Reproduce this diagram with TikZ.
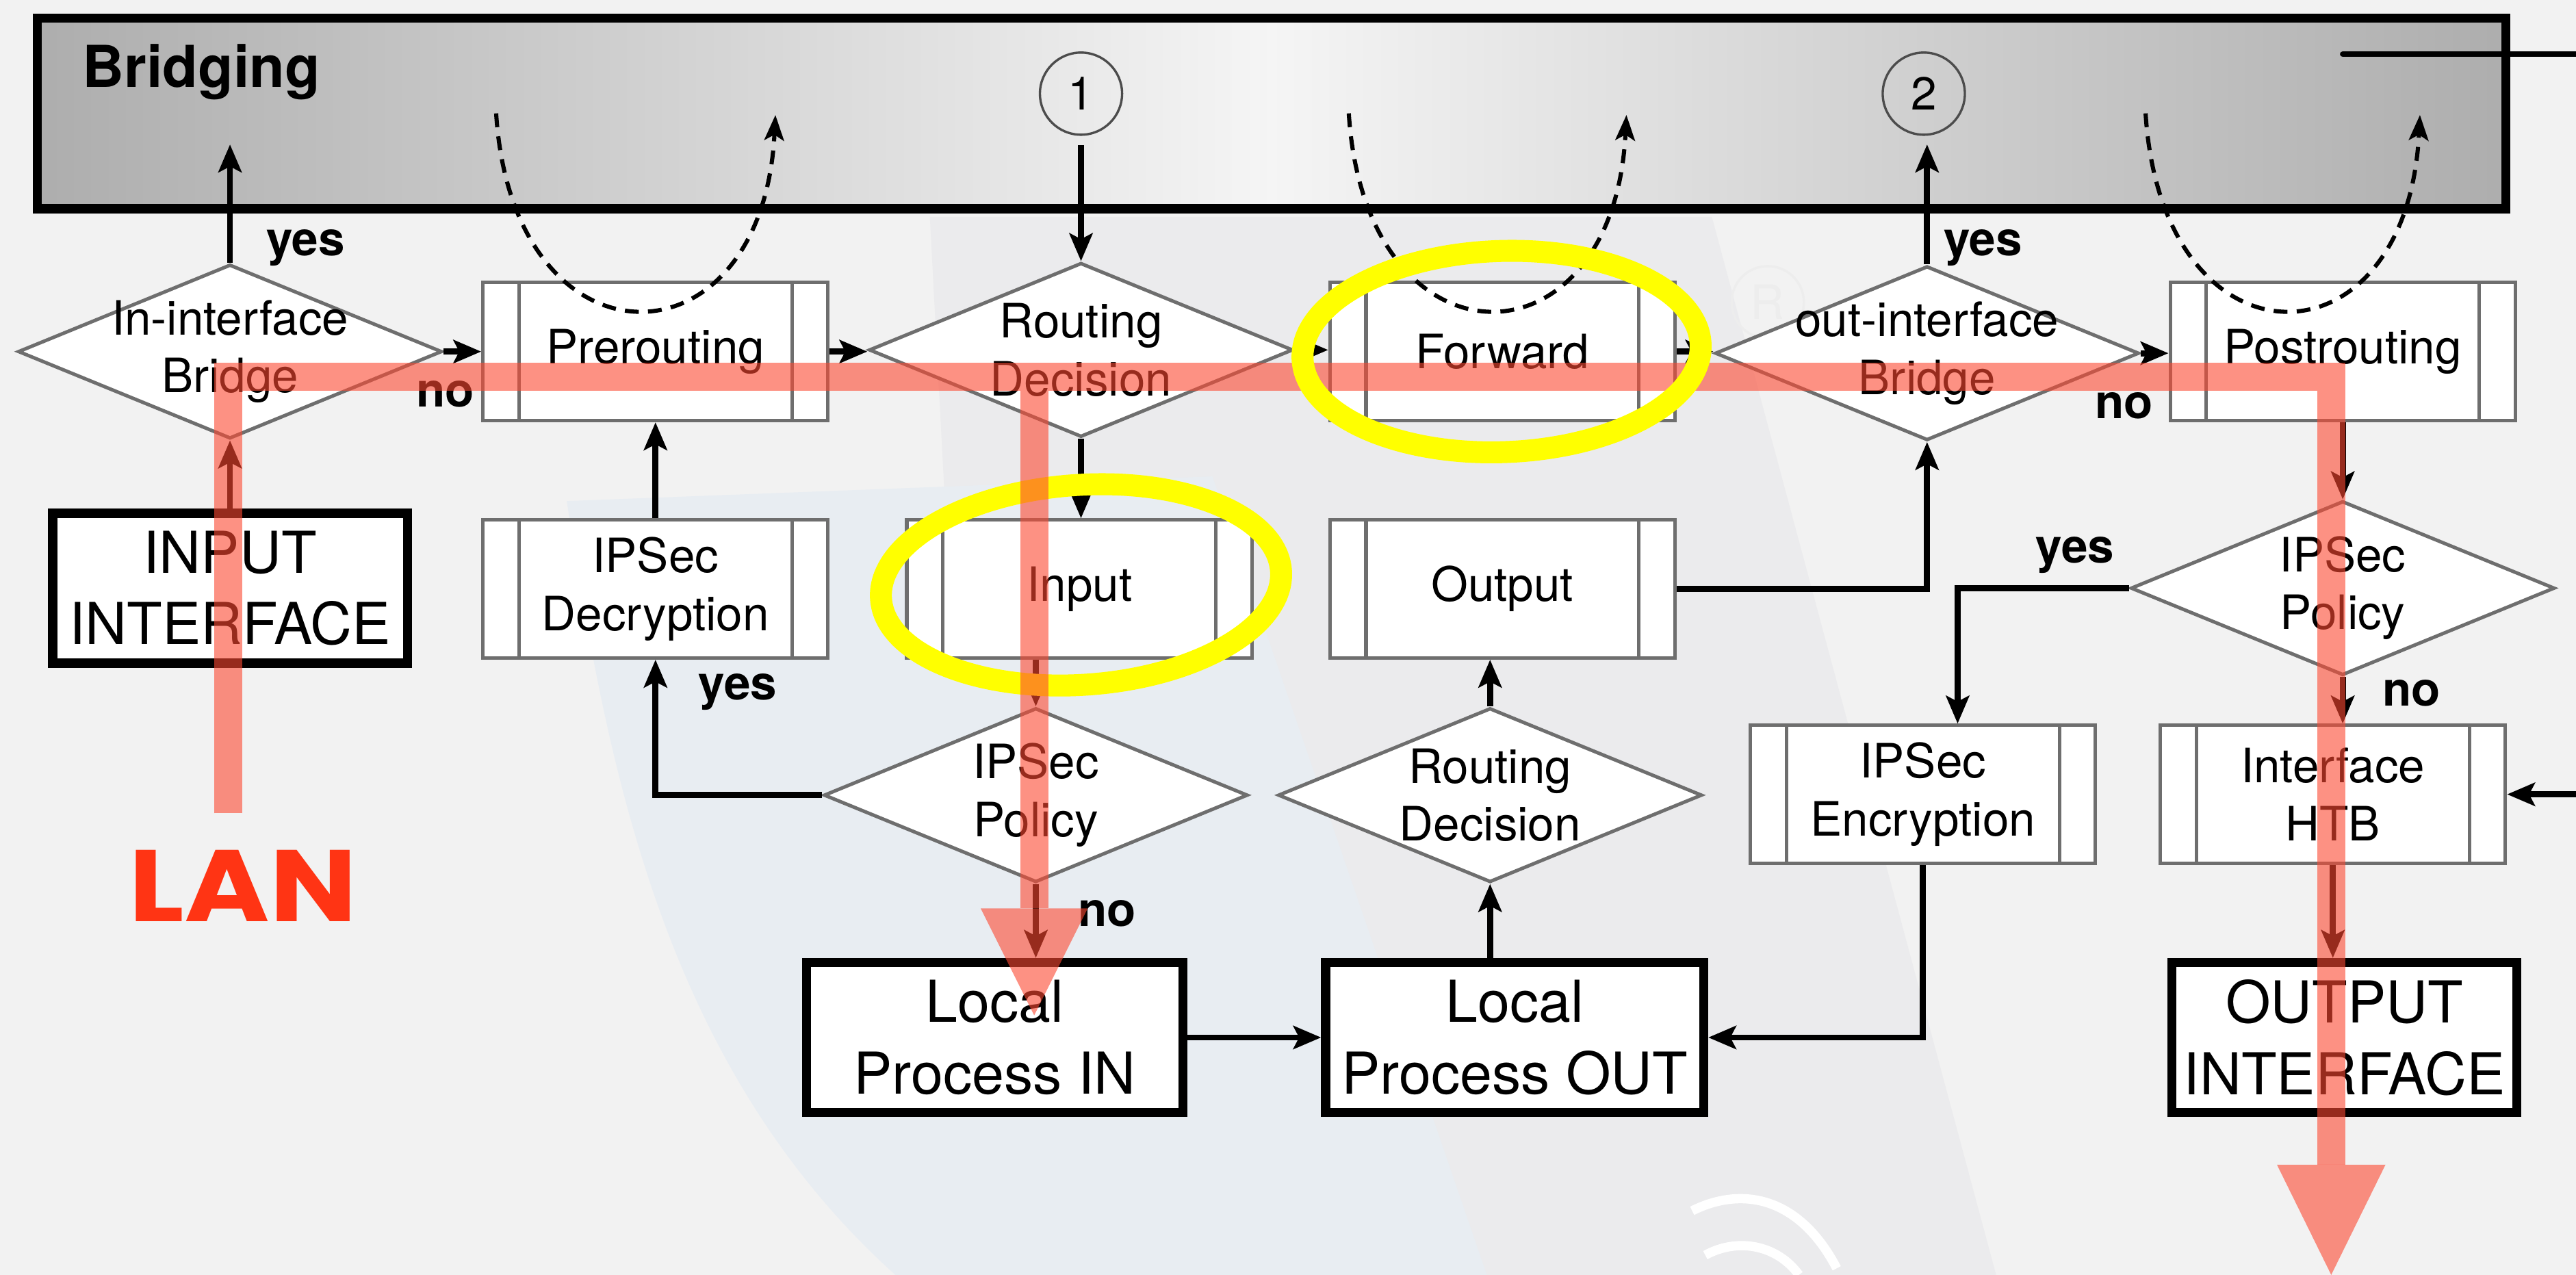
\documentclass[tikz,border=0pt]{standalone}
\usepackage{fontspec}
\setmainfont{TeX Gyre Heros}
\newfontfamily\lanfont{Poppins}
\usetikzlibrary{shapes.geometric,arrows.meta}
\definecolor{bgcol}{RGB}{242,242,242}
\definecolor{markgrey}{RGB}{235,235,237}
\definecolor{markblue}{RGB}{232,237,242}
\definecolor{boxgrey}{RGB}{110,110,110}
\definecolor{pathred}{RGB}{252,72,49}
\definecolor{lanred}{RGB}{255,52,20}
\definecolor{hiyellow}{RGB}{255,255,0}
\newcommand\boxfont{\fontsize{20.5}{25}\selectfont}
\newcommand\bigfont{\fontsize{25}{31}\selectfont}

\tikzset{
  arr/.style={line width=2.6pt,-{Stealth[length=12pt,width=10pt,inset=2.5pt]}},
  procbox/.style={draw=boxgrey,line width=1.5pt,fill=white,minimum width=5.25cm,minimum height=2.1cm,
    font=\boxfont,align=center,
    path picture={\draw[boxgrey,line width=1.5pt]
      ([xshift=0.55cm]path picture bounding box.north west) -- ([xshift=0.55cm]path picture bounding box.south west)
      ([xshift=-0.55cm]path picture bounding box.north east) -- ([xshift=-0.55cm]path picture bounding box.south east);}},
  decision/.style={shape=diamond,draw=boxgrey,line width=1.5pt,fill=white,inner sep=0pt,
    minimum width=6.45cm,minimum height=2.65cm},
  dtext/.style={font=\boxfont,align=center},
  iobox/.style={draw,line width=4pt,fill=white,minimum height=2.28cm,font=\bigfont,align=center},
  answer/.style={font=\boxfont\bfseries},
  lanpath/.style={pathred,opacity=0.6},
  loop/.style={line width=1.8pt,dash pattern=on 6pt off 4pt,-{Stealth[length=11pt,width=8.5pt,inset=2.5pt]}},
  hilite/.style={hiyellow,line width=9.5pt}
}

\begin{document}
\begin{tikzpicture}[x=0.025cm,y=-0.025cm]
  \useasboundingbox (0,0) rectangle (1568,776);
  \fill[bgcol] (0,0) rectangle (1568,776);
  % faint watermark behind the chart
  \fill[markgrey] (566,132) -- (1042,132) -- (1215,776) -- (600,776) -- cycle;
  \fill[markblue] (345,305) -- (738,290) -- (905,776) -- (545,776)
    .. controls (405,650) and (370,470) .. (345,305) -- cycle;
  \draw[white,line width=4pt] (1030,737) .. controls (1060,722) and (1095,728) .. (1118,772);
  \draw[white,line width=4pt] (1038,764) .. controls (1058,753) and (1082,758) .. (1095,776);
  \node[circle,draw=black!7,line width=1pt,minimum size=1.1cm,text=black!7,font=\boxfont] (regmark) at (1076,184) {R};

  % bridging layer
  \node[draw,line width=4pt,minimum width=37.55cm,minimum height=2.9cm,
    left color=gray!64,right color=gray!64,middle color=white!96!black] (brg) at (774,69) {};
  \node[font=\fontsize{25}{30}\selectfont\bfseries,anchor=base west,inner sep=0pt] (brgtitle) at (50,53) {Bridging};
  \coordinate (tapA) at (1426,33);
  \coordinate (tapB) at (1568,33);
  \draw[line width=2.4pt,line cap=round] (tapA) -- (tapB);
  \node[circle,draw=black!70,line width=1pt,minimum size=1.25cm,inner sep=0pt,font=\fontsize{20}{24}\selectfont] (c1) at (658,57) {1};
  \node[circle,draw=black!70,line width=1pt,minimum size=1.25cm,inner sep=0pt,font=\fontsize{20}{24}\selectfont] (c2) at (1171,57) {2};

  % row 1
  \node[decision,label={[dtext]center:{In-interface\\Bridge}}] (inbr) at (140,214) {};
  \node[procbox] (pre) at (399,214) {Prerouting};
  \node[decision,label={[dtext]center:{Routing\\Decision}}] (rdec) at (658,213) {};
  \node[procbox] (fwd) at (914.5,214) {Forward};
  \node[decision,label={[dtext]center:{out-interface\\Bridge}}] (outbr) at (1173,215) {};
  \node[procbox] (post) at (1426,214) {Postrouting};

  % row 2
  \node[iobox,minimum width=5.4cm] (inif) at (140,358) {INPUT\\INTERFACE};
  \node[procbox] (decr) at (399,358.5) {IPSec\\Decryption};
  \node[procbox] (input) at (657,358.5) {Input};
  \node[procbox] (output) at (914.5,358.5) {Output};
  \node[decision,label={[dtext]center:{IPSec\\Policy}}] (ipout) at (1426,358) {};

  % row 3
  \node[decision,label={[dtext]center:{IPSec\\Policy}}] (ipin) at (630.5,484) {};
  \node[decision,label={[dtext]center:{Routing\\Decision}}] (rdout) at (907,484) {};
  \node[procbox] (encr) at (1170.5,483.5) {IPSec\\Encryption};
  \node[procbox] (htb) at (1420,483.5) {Interface\\HTB};

  % row 4
  \node[iobox,minimum width=5.73cm] (lpin) at (605.5,631.5) {Local\\Process IN};
  \node[iobox,minimum width=5.75cm] (lpout) at (922,631.5) {Local\\Process OUT};
  \node[iobox,minimum width=5.25cm] (outif) at (1427,631.5) {OUTPUT\\INTERFACE};

  % connectors
  \draw[arr] (inbr.north) -- ++(0,-72);
  \draw[arr] (outbr.north) -- ++(0,-73);
  \draw[arr,shorten <=4pt] (c1.south) -- (rdec.north);
  \draw[arr] (inbr.east) -- (inbr.east -| pre.west);
  \draw[arr] (pre.east) -- (pre.east -| rdec.west);
  \draw[arr] (rdec.east) -- (rdec.east -| fwd.west);
  \draw[arr] (fwd.east) -- (fwd.east -| outbr.west);
  \draw[arr] (outbr.east) -- (outbr.east -| post.west);
  \draw[arr] (inif.north) -- (inbr.south);
  \draw[arr] (decr.north) -- (pre.south);
  \draw[arr] (rdec.south) -- (rdec.south |- input.north);
  \draw[arr] (output.east) -| (outbr.south);
  \draw[arr] (post.south) -- (ipout.north);
  \draw[arr] (ipout.west) -| ([xshift=15pt]encr.north);
  \draw[arr] (ipout.south) -- (ipout.south |- htb.north);
  \draw[arr] (input.south -| ipin.north) -- (ipin.north);
  \draw[arr] (ipin.west) -| (decr.south);
  \draw[arr] (ipin.south) -- (ipin.south |- lpin.north);
  \draw[arr] (rdout.north) -- (rdout.north |- output.south);
  \draw[arr] (lpout.north -| rdout.south) -- (rdout.south);
  \draw[arr] (lpin.east) -- (lpout.west);
  \draw[arr] (encr.south) |- (lpout.east);
  \draw[arr] (htb.south) -- (htb.south |- outif.north);
  \coordinate (htbfeed) at (1568,483.5);
  \draw[arr] (htbfeed) -- (htb.east);
  \foreach \a/\b in {302/472,821/990,1306/1473}
    \draw[loop] (\a,69) .. controls (\a+10,228) and (\b-8,228) .. (\b,70);

  % yes / no
  \node[answer] (yesA) at (186,151) {yes};
  \node[answer] (noA) at (271,240) {no};
  \node[answer] (yesB) at (1207,151) {yes};
  \node[answer] (noB) at (1293,247) {no};
  \node[answer] (yesC) at (449,421) {yes};
  \node[answer] (noC) at (674,556) {no};
  \node[answer] (yesD) at (1263,338) {yes};
  \node[answer] (noD) at (1468,422) {no};

  % highlighted packet path
  \draw[hilite,rotate around={4:(658,356)}] (658,356) ellipse [x radius=3.05cm,y radius=1.52cm];
  \coordinate (lan0) at (139,495);
  \coordinate (lan1) at (139,229.5);
  \coordinate (lan2) at (1419,229.5);
  \coordinate (lan3) at (1419,709);
  \coordinate (br0) at (629.5,238);
  \coordinate (br1) at (629.5,553);
  \draw[lanpath,line width=12.1pt,line join=miter] (lan0) -- (lan1) -- (lan2) -- (lan3);
  \draw[lanpath,line width=12.1pt] (br0) -- (br1);
  \fill[lanpath] (597,553) -- (662,553) -- (629.5,618) -- cycle;
  \fill[lanpath] (1386,709) -- (1452,709) -- (1419,776) -- cycle;
  \draw[hilite,rotate around={2:(914,214)}] (914,214) ellipse [x radius=3.03cm,y radius=1.53cm];
  \node[font=\lanfont\fontsize{44}{50}\selectfont\bfseries,text=lanred] (lan) at (148,539) {\scalebox{1.14}[1]{LAN}};
\end{tikzpicture}
\end{document}
